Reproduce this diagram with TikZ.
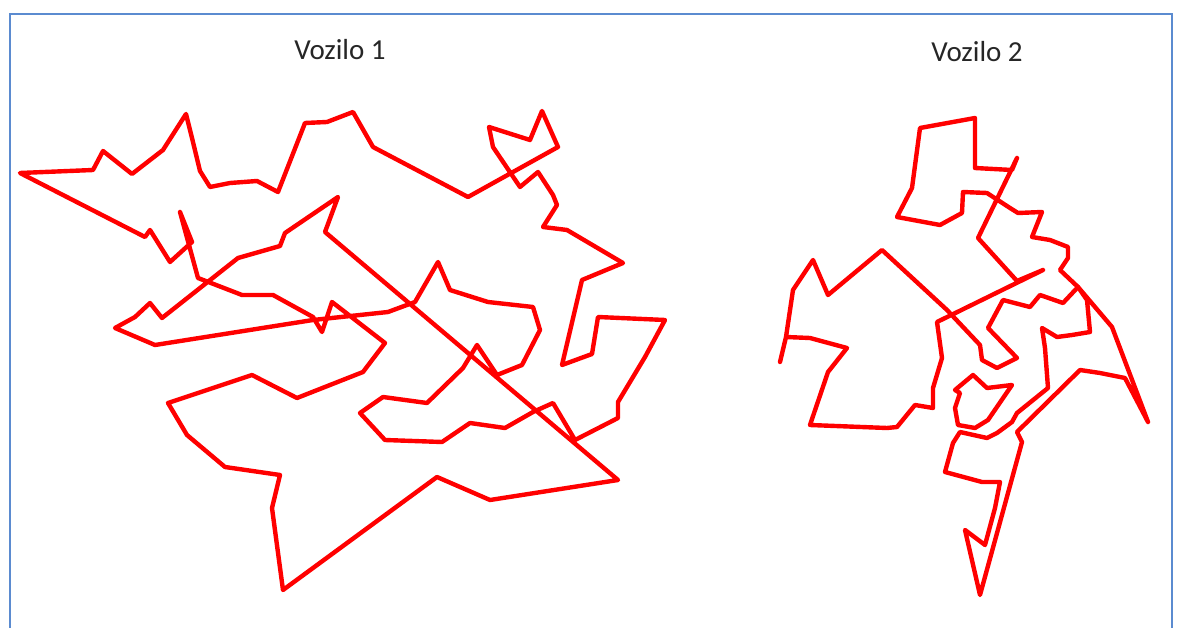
\documentclass[tikz,border=0pt]{standalone}
\usepackage{fontspec}
\setmainfont{Carlito}
\usetikzlibrary{positioning}

\definecolor{okvir}{HTML}{5B8BD0}
\definecolor{tackaboja}{HTML}{00007F}
\definecolor{tekst}{HTML}{262626}

% vozilo 1
\newcommand\rutaJedan{192/242, 180/212, 198/278, 242/295, 273/295, 313/317, 322/332, 332/302,
  385/343, 363/372, 297/398, 252/375, 168/403, 187/435, 225/467, 280/475, 272/508, 283/590,
  437/477, 490/500, 618/480, 325/232, 338/197, 285/233, 280/246, 238/258, 162/318, 150/303,
  135/317, 115/328, 155/345, 313/320, 388/312, 415/302, 438/262, 450/290, 488/302, 533/307,
  540/330, 522/365, 497/375, 477/345, 463/368, 427/403, 383/397, 360/413, 385/440, 442/442,
  470/423, 505/428, 533/412, 553/403, 575/440, 618/418, 618/402, 645/357, 665/320, 598/317,
  592/354, 562/365, 582/280, 623/263, 567/230, 543/227, 557/205, 553/195, 538/172, 520/187,
  493/147, 489/127, 530/140, 542/111, 558/147, 468/197, 373/147, 353/112, 327/122, 305/123,
  278/192, 257/181, 230/183, 210/187, 200/171, 192/138, 186/114, 163/150, 132/174, 103/151,
  93/170, 20/173, 145/237, 150/230, 170/262, 192/242}
% vozilo 2
\newcommand\rutaDvaA{780/362, 786/337, 793/290, 813/260, 828/295, 882/250, 947/310, 980/345,
  982/360, 997/368, 1017/358, 988/328, 1003/300, 1030/307, 1040/295, 1063/303, 1078/287,
  1060/270, 1068/258, 1068/247, 1050/240, 1032/237, 1042/212, 1018/213, 1010/208, 987/193,
  963/192, 962/213, 940/225, 897/217, 912/188, 920/128, 975/118, 975/168, 1012/170, 1017/158,
  978/238, 1017/281, 1043/270, 937/322, 942/358, 933/388, 933/408, 915/405, 897/427, 887/428,
  810/425, 828/372, 847/348, 810/338, 786/337}
\newcommand\rutaDvaB{1078/287, 1112/327, 1148/422, 1125/378, 1100/373, 1080/370, 1017/432,
  1022/442, 980/595, 965/530, 985/545, 995/508, 1000/482, 982/482, 945/472, 953/443, 960/432,
  987/438, 997/433, 1012/422, 1017/413, 1048/388, 1045/348, 1042/328, 1057/337, 1072/335,
  1090/332, 1087/300, 1078/287}
\newcommand\rutaDvaC{973/375, 987/388, 1012/385, 988/420, 975/428, 958/425, 955/408, 960/393,
  955/390, 973/375}

\begin{document}
\begin{tikzpicture}[x=1pt, y=-1pt, every node/.style={font=\fontsize{29}{32}\selectfont, text=tekst},
  ruta/.style={draw=red, line width=4.4pt, line join=round, line cap=round},
  tacka/.style={fill=tackaboja}]
\useasboundingbox (0,0) rectangle (1184,628);
\draw[okvir, line width=1.2pt] (10,640) -- (10,14) -- (1172,14) -- (1172,640);
\node (naslov1) at (340,50) {Vozilo 1};
\node (naslov2) at (977,52) {Vozilo 2};
% tacke
\foreach \ruta in {\rutaJedan, \rutaDvaA, \rutaDvaB, \rutaDvaC}{
  \foreach \x/\y in \ruta {\fill[tacka] (\x,\y) rectangle (\x+4.5,\y+4.5);}
}
% rute
\draw[ruta] (192,242) \foreach \x/\y in \rutaJedan {-- (\x,\y)};
\draw[ruta] (780,362) \foreach \x/\y in \rutaDvaA {-- (\x,\y)};
\draw[ruta] (1078,287) \foreach \x/\y in \rutaDvaB {-- (\x,\y)};
\draw[ruta] (973,375) \foreach \x/\y in \rutaDvaC {-- (\x,\y)};
\end{tikzpicture}
\end{document}
